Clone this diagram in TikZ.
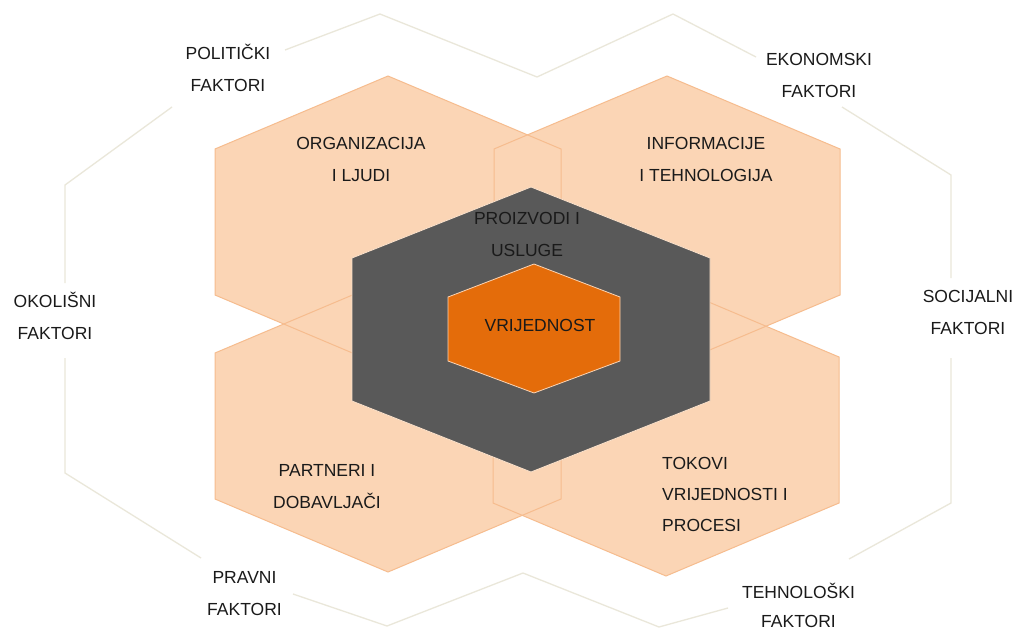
\documentclass[tikz,border=0pt]{standalone}
\usepackage{fontspec}
\setmainfont{Liberation Sans}
\definecolor{framec}{HTML}{EAE7DA}
\definecolor{peach}{HTML}{FBD5B5}
\definecolor{peachline}{HTML}{F6BC8E}
\definecolor{darkhex}{HTML}{595959}
\definecolor{core}{HTML}{E46C0A}
\definecolor{txt}{HTML}{1A1A1A}
\tikzset{
  frameline/.style={draw=framec, line width=1.3pt, line join=miter},
  outerhex/.style={fill=peach},
  outerhexline/.style={draw=peachline, line width=1pt, line join=miter},
  darkstyle/.style={fill=darkhex, draw=peach!70!white, line width=0.8pt, line join=miter},
  corestyle/.style={fill=core, draw=peach, line width=0.8pt, line join=miter},
  lbl/.style={font=\fontsize{17.5}{32}\selectfont, text=txt, align=center, inner sep=0pt},
  lbltight/.style={font=\fontsize{17.5}{29}\selectfont, text=txt, align=center, inner sep=0pt},
  lblleft/.style={font=\fontsize{17.5}{31}\selectfont, text=txt, align=left, inner sep=0pt, anchor=west}
}
\begin{document}
\begin{tikzpicture}[x=1pt, y=-1pt]
\fill[white] (0,0) rectangle (1018,632);
\useasboundingbox (0,0) rectangle (1018,632);

% outer frame (broken where the labels sit)
\draw[frameline] (285,50) -- (380,14) -- (537,77) -- (673,14) -- (756,57);
\draw[frameline] (842,107) -- (951,175) -- (951,278);
\draw[frameline] (951,358) -- (951,503) -- (849,559);
\draw[frameline] (728,608) -- (659,627) -- (523,573) -- (387,626) -- (293,594);
\draw[frameline] (201,558) -- (65,473) -- (65,358);
\draw[frameline] (65,283) -- (65,185) -- (172,107);

% four light hexagons: fills
\fill[outerhex] (388,76) -- (561,149) -- (561,295) -- (388,368) -- (215,295) -- (215,149) -- cycle;
\fill[outerhex] (667,76) -- (840,149) -- (840,295) -- (667,368) -- (494,295) -- (494,149) -- cycle;
\fill[outerhex] (388,280) -- (561,353) -- (561,499) -- (388,572) -- (215,499) -- (215,353) -- cycle;
\fill[outerhex] (666,284) -- (839,357) -- (839,503) -- (666,576) -- (493,503) -- (493,357) -- cycle;
% outlines
\draw[outerhexline] (388,76) -- (561,149) -- (561,295) -- (388,368) -- (215,295) -- (215,149) -- cycle;
\draw[outerhexline] (667,76) -- (840,149) -- (840,295) -- (667,368) -- (494,295) -- (494,149) -- cycle;
\draw[outerhexline] (388,280) -- (561,353) -- (561,499) -- (388,572) -- (215,499) -- (215,353) -- cycle;
\draw[outerhexline] (666,284) -- (839,357) -- (839,503) -- (666,576) -- (493,503) -- (493,357) -- cycle;

% dark hexagon
\draw[darkstyle] (531,187) -- (710,258) -- (710,401) -- (531,472) -- (352,401) -- (352,258) -- cycle;
% core hexagon
\draw[corestyle] (534,264) -- (620,297) -- (620,361) -- (534,393) -- (448,361) -- (448,297) -- cycle;

% labels
\node[lbl] (pol) at (228,69) {\strut POLITIČKI\\\strut FAKTORI};
\node[lbl] (eko) at (819,75) {\strut EKONOMSKI\\\strut FAKTORI};
\node[lbl] (oko) at (55,317.5) {\strut OKOLIŠNI\\\strut FAKTORI};
\node[lbl] (soc) at (968,312.5) {\strut SOCIJALNI\\\strut FAKTORI};
\node[lbl] (pra) at (244.5,593) {\strut PRAVNI\\\strut FAKTORI};
\node[lbltight] (teh) at (798.5,607) {\strut TEHNOLOŠKI\\\strut FAKTORI};

\node[lbl] (org) at (361,159.5) {\strut ORGANIZACIJA\\\strut I LJUDI};
\node[lbl] (inf) at (706,159) {\strut INFORMACIJE\\\strut I TEHNOLOGIJA};
\node[lbl] (par) at (327,486) {\strut PARTNERI I\\\strut DOBAVLJAČI};
\node[lblleft] (tok) at (662,494) {\strut TOKOVI\\\strut VRIJEDNOSTI I\\\strut PROCESI};
\node[lbl] (pro) at (527,234) {\strut PROIZVODI I\\\strut USLUGE};
\node[lbl] (vri) at (540,325) {\strut VRIJEDNOST};
\end{tikzpicture}
\end{document}
